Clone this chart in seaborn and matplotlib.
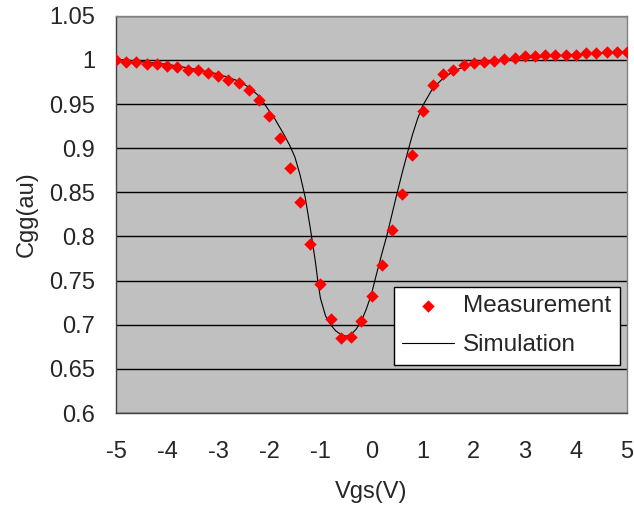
import numpy as np
import pandas as pd
import matplotlib
matplotlib.use("Agg")
import matplotlib.pyplot as plt
import seaborn as sns

meas_vgs = [-5.0, -4.8, -4.6, -4.4, -4.2, -4.0, -3.8, -3.6, -3.4, -3.2, -3.0,
            -2.8, -2.6, -2.4, -2.2, -2.0, -1.8, -1.6, -1.4, -1.2, -1.0, -0.8,
            -0.6, -0.4, -0.2, 0.0, 0.2, 0.4, 0.6, 0.8, 1.0, 1.2, 1.4, 1.6, 1.8,
            2.0, 2.2, 2.4, 2.6, 2.8, 3.0, 3.2, 3.4, 3.6, 3.8, 4.0, 4.2, 4.4,
            4.6, 4.8, 5.0]
meas_cgg = [1.000, 0.998, 0.998, 0.9955, 0.9955, 0.993, 0.992, 0.989, 0.988,
            0.985, 0.982, 0.977, 0.974, 0.966, 0.955, 0.937, 0.912, 0.878,
            0.839, 0.791, 0.746, 0.707, 0.685, 0.686, 0.704, 0.733, 0.768,
            0.807, 0.848, 0.892, 0.942, 0.972, 0.984, 0.989, 0.994, 0.997,
            0.998, 0.999, 1.001, 1.002, 1.004, 1.004, 1.0057, 1.0057, 1.006,
            1.006, 1.0076, 1.0076, 1.0087, 1.0087, 1.0087]

# simulated curve
sim_vgs = [-5.0, -4.5, -4.0, -3.5, -3.0, -2.6, -2.4, -2.2, -2.0, -1.9, -1.8,
           -1.7, -1.6, -1.5, -1.4, -1.3, -1.2, -1.1, -1.05, -1.0, -0.9, -0.8,
           -0.7, -0.6, -0.5, -0.4, -0.3, -0.2, -0.1, 0.0, 0.1, 0.2, 0.3, 0.4,
           0.5, 0.6, 0.7, 0.8, 0.9, 1.0, 1.2, 1.4, 1.6, 1.8, 2.0, 2.5, 3.0,
           3.5, 4.0, 4.5, 5.0]
sim_cgg = [1.001, 0.998, 0.995, 0.990, 0.984, 0.976, 0.969, 0.959, 0.942,
           0.934, 0.924, 0.914, 0.903, 0.890, 0.870, 0.845, 0.810, 0.772,
           0.749, 0.730, 0.710, 0.700, 0.693, 0.689, 0.687, 0.689, 0.695,
           0.704, 0.718, 0.735, 0.758, 0.780, 0.801, 0.825, 0.849, 0.872,
           0.894, 0.915, 0.933, 0.948, 0.968, 0.979, 0.987, 0.992, 0.995,
           0.999, 1.002, 1.004, 1.006, 1.008, 1.009]

meas = pd.DataFrame({"Vgs": meas_vgs, "Cgg": meas_cgg})
sim = pd.DataFrame({"Vgs": sim_vgs, "Cgg": sim_cgg})

sns.set_style("white")
plt.rcParams["font.family"] = ["Liberation Sans", "DejaVu Sans"]

fig = plt.figure(figsize=(6.34, 5.08), dpi=100)
ax = fig.add_axes([0.183, 0.187, 0.806, 0.782])
ax.set_facecolor("#c0c0c0")

sns.lineplot(ax=ax, data=sim, x="Vgs", y="Cgg", color="black", linewidth=0.8,
             label="Simulation", zorder=3)
sns.scatterplot(ax=ax, data=meas, x="Vgs", y="Cgg", marker="D", color="red",
                s=40, linewidth=0, label="Measurement", zorder=4)

ax.set_xlim(-5, 5)
ax.set_ylim(0.6, 1.05)
ax.set_xticks(np.arange(-5, 6, 1))
ax.set_yticks(np.arange(0.6, 1.051, 0.05))
ax.set_xticklabels([str(v) for v in range(-5, 6)])
ax.set_yticklabels(["0.6", "0.65", "0.7", "0.75", "0.8", "0.85", "0.9",
                    "0.95", "1", "1.05"])
ax.yaxis.grid(True, color="black", linewidth=1.0)
ax.xaxis.grid(False)
ax.tick_params(axis="x", direction="in", length=5, color="#404040",
               labelsize=17, pad=20)
ax.tick_params(axis="y", length=0, labelsize=17, pad=15)
for side in ["left", "bottom", "right", "top"]:
    ax.spines[side].set_color("#808080")
    ax.spines[side].set_linewidth(1.0)
ax.spines["bottom"].set_color("#404040")
ax.spines["left"].set_color("#404040")

ax.set_xlabel("Vgs(V)", fontsize=17, labelpad=13)
ax.set_ylabel("Cgg(au)", fontsize=17, labelpad=8)

handles, labels = ax.get_legend_handles_labels()
order = [labels.index("Measurement"), labels.index("Simulation")]
leg = ax.legend([handles[i] for i in order], [labels[i] for i in order],
                loc="lower right", bbox_to_anchor=(0.986, 0.121),
                borderaxespad=0, fontsize=17.5,
                frameon=True, fancybox=False, framealpha=1, edgecolor="black",
                borderpad=0.35, handlelength=2.1, handletextpad=0.4,
                labelspacing=0.7)
leg.get_frame().set_linewidth(1.0)

fig.savefig("out.png", dpi=100, facecolor="white")
